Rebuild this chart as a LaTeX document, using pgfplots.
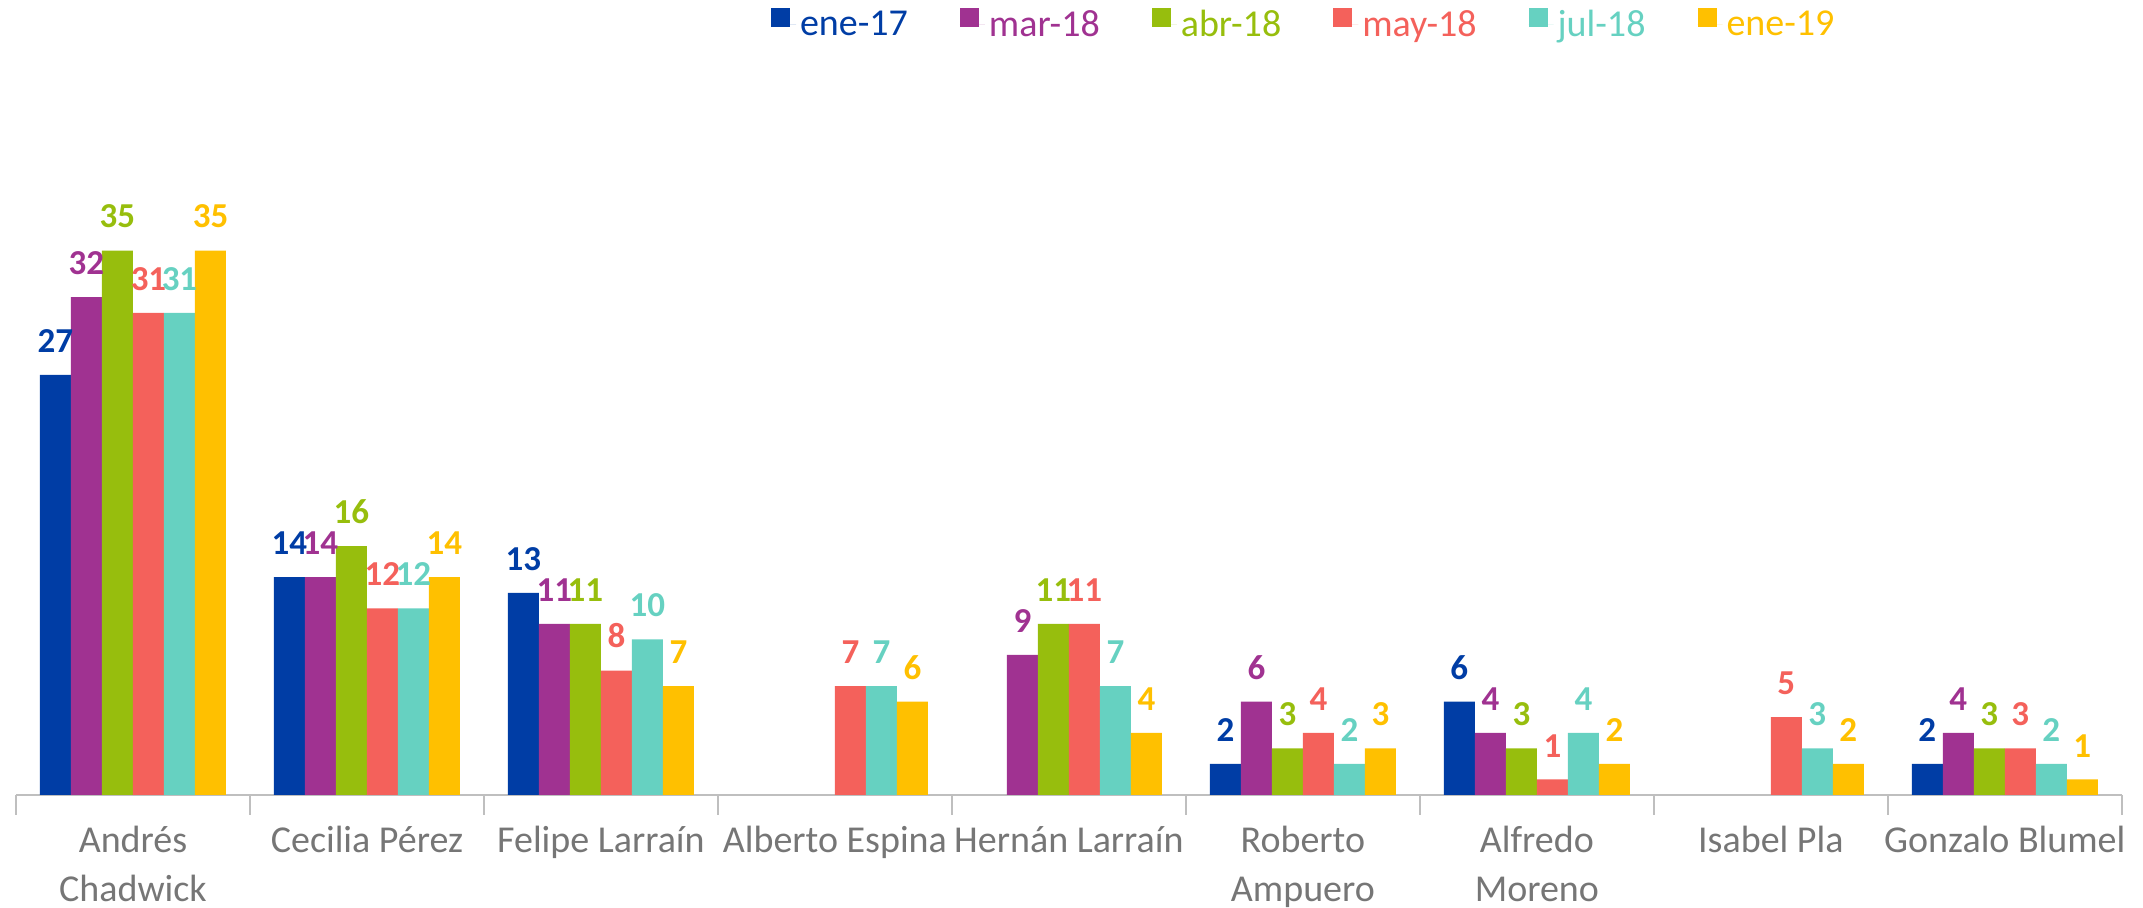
\documentclass[border=0pt]{standalone}
\usepackage{fontspec}
\setmainfont{Carlito}
\usepackage{pgfplots}
\pgfplotsset{compat=1.18}
\definecolor{cA}{RGB}{0,61,165}
\definecolor{cB}{RGB}{160,50,145}
\definecolor{cC}{RGB}{151,190,13}
\definecolor{cD}{RGB}{244,97,91}
\definecolor{cE}{RGB}{102,209,193}
\definecolor{cF}{RGB}{255,192,0}
\definecolor{axgray}{RGB}{191,191,191}
\definecolor{lblgray}{RGB}{118,118,118}
\begin{document}
\begin{tikzpicture}
\useasboundingbox (0,0) rectangle (1071.5pt,454pt);
\begin{axis}[
 at={(8pt,56.5pt)}, anchor=south west,
 scale only axis, width=1053pt, height=350pt,
 ybar=0pt, bar width=0.1325,
 xmin=0.5, xmax=9.5, ymin=0, ymax=45,
 axis x line=bottom, axis y line=none,
 x axis line style={-, draw=axgray, line width=0.8pt},
 xtick={1,...,9},
 xticklabels={{Andrés\\Chadwick},{Cecilia Pérez},{Felipe Larraín},{Alberto Espina},{Hernán Larraín},{Roberto\\Ampuero},{Alfredo\\Moreno},{Isabel Pla},{Gonzalo Blumel}},
 major tick length=0pt,
 minor xtick={0.5,1.5,...,9.5},
 minor x tick style={draw=axgray, line width=0.8pt},
 minor tick length=10pt,
 tick align=outside,
 xticklabel style={font=\fontsize{19}{24.5}\selectfont, text=lblgray, align=center, anchor=north, yshift=-12pt},
 /pgf/number format/assume math mode=true,
 nodes near coords={\bfseries\pgfmathprintnumber{\pgfplotspointmeta}},
 every node near coord/.append style={font=\fontsize{17.5}{20}\selectfont\bfseries, anchor=south, inner sep=0pt, yshift=11pt},
 legend style={at={(0.612,1.1)}, anchor=center, draw=none, fill=none, legend columns=6,
   font=\fontsize{19}{22}\selectfont, /tikz/every even column/.append style={column sep=24pt}},
 legend image code/.code={\fill[#1] (0pt,-1pt) rectangle (9.5pt,8.5pt); \path (0pt,0pt) -- (12.5pt,0pt);},
]
\addplot[fill=cA, draw=none, every node near coord/.append style={text=cA}] coordinates {(1,27) (2,14) (3,13) (6,2) (7,6) (9,2)};
\addlegendentry{\textcolor{cA}{ene-17}}
\addplot[fill=cB, draw=none, every node near coord/.append style={text=cB}] coordinates {(1,32) (2,14) (3,11) (5,9) (6,6) (7,4) (9,4)};
\addlegendentry{\textcolor{cB}{mar-18}}
\addplot[fill=cC, draw=none, every node near coord/.append style={text=cC}] coordinates {(1,35) (2,16) (3,11) (5,11) (6,3) (7,3) (9,3)};
\addlegendentry{\textcolor{cC}{abr-18}}
\addplot[fill=cD, draw=none, every node near coord/.append style={text=cD}] coordinates {(1,31) (2,12) (3,8) (4,7) (5,11) (6,4) (7,1) (8,5) (9,3)};
\addlegendentry{\textcolor{cD}{may-18}}
\addplot[fill=cE, draw=none, every node near coord/.append style={text=cE}] coordinates {(1,31) (2,12) (3,10) (4,7) (5,7) (6,2) (7,4) (8,3) (9,2)};
\addlegendentry{\textcolor{cE}{jul-18}}
\addplot[fill=cF, draw=none, every node near coord/.append style={text=cF}] coordinates {(1,35) (2,14) (3,7) (4,6) (5,4) (6,3) (7,2) (8,2) (9,1)};
\addlegendentry{\textcolor{cF}{ene-19}}
\end{axis}
\end{tikzpicture}
\end{document}
